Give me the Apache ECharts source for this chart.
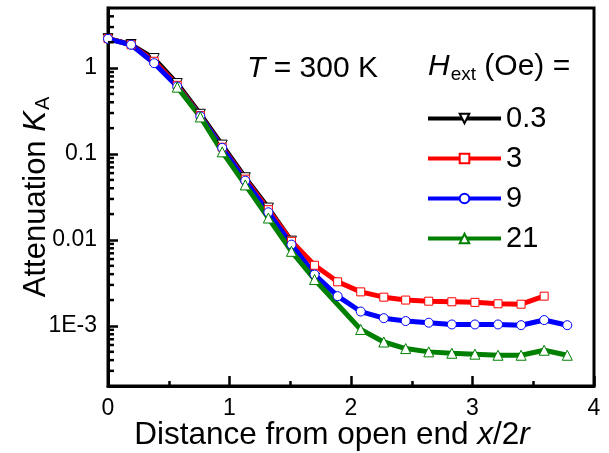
<!DOCTYPE html>
<html>
<head>
<meta charset="utf-8">
<script src="https://cdn.jsdelivr.net/npm/echarts@6/dist/echarts.min.js"></script>
<style>
  html, body { margin: 0; padding: 0; background: #fff; }
  #chart { width: 609px; height: 453px; }
</style>
</head>
<body>
<div id="chart"></div>
<script>
// Distance from the open end, x/2r
const xs = [0, 0.19, 0.38, 0.57, 0.76, 0.94, 1.13, 1.32, 1.51, 1.70, 1.89,
            2.08, 2.27, 2.45, 2.64, 2.83, 3.02, 3.21, 3.40, 3.59, 3.78];

// Attenuation K_A for each external field (null = no measurement)
const kH03 = [2.2, 1.88, 1.29, 0.66, 0.29, 0.127, 0.053, 0.0235, 0.0097, 0.0036];
const kH3  = [2.2, 1.87, 1.2, 0.63, 0.28, 0.12, 0.051, 0.0225, 0.00964, 0.00508,
              0.00326, 0.00249, 0.00216, 0.00200, 0.00194, 0.00191, 0.00188, 0.00181,
              0.00179, 0.00222];
const kH9  = [2.19, 1.87, 1.14, 0.61, 0.275, 0.118, 0.049, 0.021, 0.00883, 0.00396,
              0.00222, 0.00147, 0.00123, 0.00114, 0.00109, 0.00104, 0.00104, 0.00104,
              0.00102, 0.00117, 0.00102];
const kH21 = [null, null, null, 0.60, 0.27, 0.106, 0.0437, 0.018, 0.00738, 0.00347,
              null, 0.00091, 0.00065, 0.000545, 0.000499, 0.000481, 0.000469, 0.000456,
              0.000456, 0.000521, 0.000456];

const seriesNames = ['0.3', '3', '9', '21'];

// Decade labels on the log axis
const yTickValues = [1e-3, 0.01, 0.1, 1];
const yTickLabels = ['1E-3', '0.01', '0.1', '1'];

// Minor ticks at 2..9 within each decade
const yMinorTicks = [3e-4, 4e-4, 5e-4, 6e-4, 7e-4, 8e-4, 9e-4,
                     2e-3, 3e-3, 4e-3, 5e-3, 6e-3, 7e-3, 8e-3, 9e-3,
                     0.02, 0.03, 0.04, 0.05, 0.06, 0.07, 0.08, 0.09,
                     0.2, 0.3, 0.4, 0.5, 0.6, 0.7, 0.8, 0.9,
                     2, 3, 4];

const FONT = 'Liberation Sans, Arial, sans-serif';

function pairs(ys) {
  return ys.map((v, i) => [xs[i], v]);
}

function lineSeries(name, ys, color, symbol, rotate, size) {
  return {
    name: name,
    type: 'line',
    data: pairs(ys),
    connectNulls: true,
    symbol: symbol,
    symbolSize: size,
    symbolRotate: rotate,
    showAllSymbol: true,
    lineStyle: { color: color, width: 5 },
    itemStyle: { color: '#fff', borderColor: color, borderWidth: 1 },
    emphasis: { disabled: true },
    animation: false
  };
}

const chart = echarts.init(document.getElementById('chart'), null, { renderer: 'canvas' });

chart.setOption({
  backgroundColor: '#fff',
  animation: false,
  grid: {
    left: 108, right: 15, top: 8, bottom: 67,
    outerBoundsMode: 'none',
    containLabel: false,
    show: true, borderColor: '#000', borderWidth: 3, backgroundColor: 'transparent'
  },
  xAxis: {
    type: 'value',
    min: 0, max: 4, interval: 1,
    name: '{n|Distance from open end }{i|x}{n|/2}{i|r}',
    nameLocation: 'middle',
    nameMoveOverlap: false,
    nameGap: 33,
    nameTextStyle: {
      padding: [0, 38, 0, 0],
      rich: {
        n: { fontFamily: FONT, fontSize: 31.5, color: '#000' },
        i: { fontFamily: FONT, fontSize: 31.5, color: '#000', fontStyle: 'italic' }
      }
    },
    axisLine: { lineStyle: { color: '#000', width: 3 } },
    axisTick: { inside: true, length: 10, lineStyle: { color: '#000', width: 2.5 } },
    minorTick: { show: true, splitNumber: 2, length: 5, lineStyle: { color: '#000', width: 2.5 } },
    axisLabel: { fontFamily: FONT, fontSize: 23, color: '#000', margin: 11 },
    splitLine: { show: false }
  },
  yAxis: {
    type: 'log',
    logBase: 10,
    min: 2e-4, max: 5,
    name: '{n|Attenuation }{i|K}{s|A}',
    nameLocation: 'middle',
    nameRotate: 90,
    nameMoveOverlap: false,
    nameGap: 55,
    nameTextStyle: {
      rich: {
        n: { fontFamily: FONT, fontSize: 31, color: '#000', lineHeight: 32, verticalAlign: 'top' },
        i: { fontFamily: FONT, fontSize: 31, color: '#000', fontStyle: 'italic', lineHeight: 32, verticalAlign: 'top' },
        s: { fontFamily: FONT, fontSize: 20, color: '#000', lineHeight: 20, padding: [21, 0, 0, 1], verticalAlign: 'bottom' }
      }
    },
    axisLine: { lineStyle: { color: '#000', width: 3 } },
    axisTick: { inside: true, length: 10, lineStyle: { color: '#000', width: 2.5 } },
    axisLabel: {
      fontFamily: FONT, fontSize: 23, color: '#000', margin: 11,
      showMinLabel: false, showMaxLabel: false,
      formatter: function (v) {
        for (let i = 0; i < yTickValues.length; i++) {
          if (Math.abs(Math.log10(v) - Math.log10(yTickValues[i])) < 1e-6) return yTickLabels[i];
        }
        return '';
      }
    },
    splitLine: { show: false }
  },
  legend: {
    data: seriesNames,
    orient: 'vertical',
    left: 426, top: 104,
    padding: 0,
    itemWidth: 73, itemHeight: 12,
    itemGap: 11,
    lineStyle: { width: 4 },
    textStyle: { fontFamily: FONT, fontSize: 29, color: '#000', lineHeight: 27 },
    selectedMode: false
  },
  graphic: [
    {
      type: 'text', x: 247, y: 69,
      style: {
        text: '{i|T}{n| = 300 K}',
        verticalAlign: 'middle',
        rich: {
          n: { fontFamily: FONT, fontSize: 30, fill: '#000' },
          i: { fontFamily: FONT, fontSize: 30, fill: '#000', fontStyle: 'italic' }
        }
      }
    },
    {
      type: 'text', x: 428, y: 52,
      style: {
        text: '{i|H}{s|ext}{n| (Oe) =}',
        verticalAlign: 'top',
        rich: {
          n: { fontFamily: FONT, fontSize: 30, fill: '#000', lineHeight: 32, verticalAlign: 'top' },
          i: { fontFamily: FONT, fontSize: 30, fill: '#000', fontStyle: 'italic', lineHeight: 32, verticalAlign: 'top' },
          s: { fontFamily: FONT, fontSize: 19, fill: '#000', lineHeight: 19, padding: [23, 0, 0, 1], verticalAlign: 'bottom' }
        }
      }
    }
  ],
  series: [
    lineSeries('0.3', kH03, '#000000', 'triangle', 180, 10),
    lineSeries('3', kH3, '#ff0000', 'rect', 0, 8),
    lineSeries('9', kH9, '#0000ff', 'circle', 0, 9),
    lineSeries('21', kH21, '#008000', 'triangle', 0, 10),
    {
      name: 'yMinor',
      type: 'custom',
      silent: true,
      clip: false,
      animation: false,
      data: yMinorTicks.map(v => [0, v]),
      renderItem: function (params, api) {
        const p = api.coord([0, api.value(1)]);
        return {
          type: 'line',
          shape: { x1: p[0], y1: p[1], x2: p[0] + 6, y2: p[1] },
          style: { stroke: '#000', lineWidth: 2.5 }
        };
      },
      z: 5
    }
  ]
});
</script>
</body>
</html>
